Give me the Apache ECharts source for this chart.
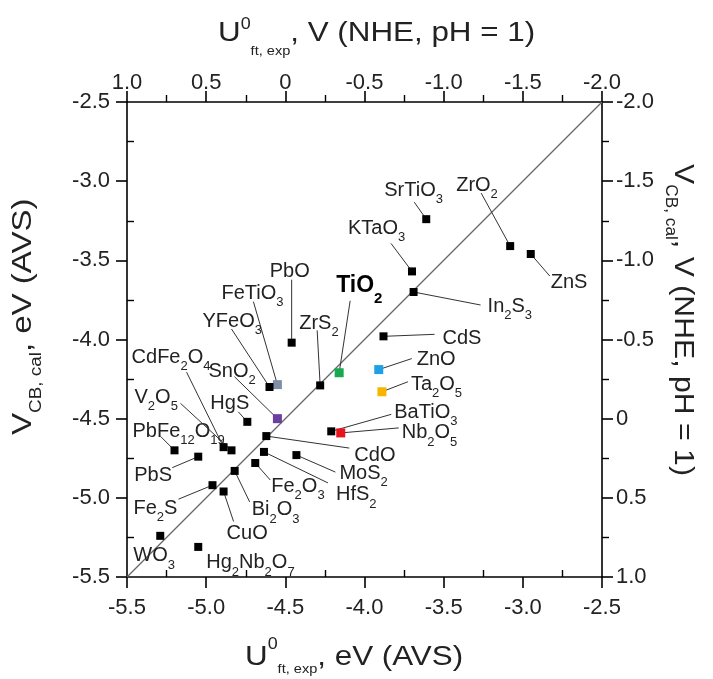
<!DOCTYPE html>
<html>
<head>
<meta charset="utf-8">
<script src="https://cdn.jsdelivr.net/npm/echarts@6/dist/echarts.min.js"></script>
<style>
  html, body { margin: 0; padding: 0; background: #fff; }
  #chart { width: 713px; height: 679px; }
</style>
</head>
<body>
<div id="chart"></div>
<script>
// materials, experimental flat-band potential vs calculated CB edge (both eV vs AVS)
const names = ['SrTiO3', 'ZrO2', 'ZnS', 'KTaO3', 'In2S3', 'CdS', 'ZnO', 'Ta2O5', 'TiO2', 'ZrS2',
  'PbO', 'BaTiO3', 'Nb2O5', 'MoS2', 'FeTiO3', 'YFeO3', 'SnO2', 'HgS', 'CdO', 'HfS2',
  'Fe2O3', 'Bi2O3', 'CuO', 'Fe2S', 'WO3', 'Hg2Nb2O7', 'PbS', 'PbFe12O19', 'CdFe2O4', 'V2O5'];
const uExp = [-3.61, -3.08, -2.95, -3.70, -3.69, -3.88, -3.91, -3.89, -4.16, -4.28,
  -4.46, -4.21, -4.15, -4.43, -4.55, -4.60, -4.55, -4.74, -4.62, -4.635,
  -4.69, -4.82, -4.89, -4.96, -5.29, -5.05, -5.05, -5.20, -4.89, -4.84];
const vCal = [-3.24, -3.41, -3.46, -3.57, -3.70, -3.98, -4.19, -4.33, -4.21, -4.29,
  -4.02, -4.58, -4.59, -4.73, -4.285, -4.30, -4.50, -4.52, -4.61, -4.71,
  -4.78, -4.83, -4.96, -4.92, -5.24, -5.31, -4.74, -4.70, -4.68, -4.70];
// y = x reference line
const diagX = [-5.5, -2.5];
const diagY = [-5.5, -2.5];

// highlighted materials
const pointColors = {
  TiO2: '#19a84f', ZnO: '#1ea0e6', Ta2O5: '#f7b500', Nb2O5: '#e8141b',
  SnO2: '#6b3fa0', FeTiO3: '#7f8fa8'
};

// label placement in px relative to the point: [text left, text middle, leader end x, leader end y]
const labelPos = {
  SrTiO3: [-42, -29, -12, -17], ZrO2: [-54, -61, -29, -53], ZnS: [20, 28, 19, 22],
  KTaO3: [-64, -43, -21, -28], In2S3: [74, 14, 67, 13], CdS: [59, 2, 51, -2],
  ZnO: [38, -10, 33, -11], Ta2O5: [29, -7, 26, -10], TiO2: [-3, -87, 11, -72],
  ZrS2: [-21, -62, -3, -55], PbO: [-22, -71, 0, -63], BaTiO3: [63, -19, 60, -17],
  Nb2O5: [61, 0, 58, -5], MoS2: [43, 18, 39, 17], FeTiO3: [-56, -91, -24, -83],
  YFeO3: [-67, -66, -38, -58], SnO2: [-69, -47, -43, -42], HgS: [-37, -18, -9, -10],
  CdO: [88, 19, 83, 12], HfS2: [72, 43, 64, 31], Fe2O3: [16, 23, 15, 17],
  Bi2O3: [17, 39, 15, 31], CuO: [3, 42, 10, 30], Fe2S: [-79, 23, -34, 14],
  WO3: [-27, 20, null, null], Hg2Nb2O7: [8, 16, null, null], PbS: [-64, 19, -26, 11],
  PbFe12O19: [-42, -19, -14, -14], CdFe2O4: [-92, -90, -37, -75], V2O5: [-97, -53, -51, -47]
};

const FONT = '"Liberation Sans", Arial, Helvetica, sans-serif';
const INK = '#222';

const labelRich = {
  m: { fontSize: 20, fontFamily: FONT, lineHeight: 20, verticalAlign: 'top', fill: INK, color: INK },
  s: { fontSize: 13, fontFamily: FONT, lineHeight: 13, padding: [12.6, 0, 0, 0], verticalAlign: 'top', fill: INK, color: INK },
  mb: { fontSize: 23, fontFamily: FONT, fontWeight: 'bold', lineHeight: 23, verticalAlign: 'top', fill: '#000', color: '#000' },
  sb: { fontSize: 15, fontFamily: FONT, fontWeight: 'bold', lineHeight: 15, padding: [16.8, 0, 0, 0], verticalAlign: 'top', fill: '#000', color: '#000' }
};

// digits in a formula become subscripts
function formula(name, bold) {
  const m = bold ? 'mb' : 'm';
  const s = bold ? 'sb' : 's';
  return name.replace(/(\d+)|(\D+)/g, function (all, d, t) {
    return d ? '{' + s + '|' + d + '}' : '{' + m + '|' + t + '}';
  });
}

function fmt(v) {
  return v === 0 ? '0' : v.toFixed(1);
}

const points = uExp.map(function (x, i) { return [x, vCal[i]]; });

const axisLine = { onZero: false, lineStyle: { color: '#000', width: 1.6 } };
const axisTick = { inside: false, length: 11, lineStyle: { color: '#000', width: 1.6 } };
function tickLabel(margin) {
  return {
    margin: margin, fontSize: 22, fontFamily: FONT, color: INK,
    formatter: fmt, showMinLabel: true, showMaxLabel: true
  };
}

// minor ticks come out pointing inward on the bottom/left axes, so flip those
function makeAxis(position, min, max, inverse, margin, minorLen) {
  return {
    type: 'value', position: position, min: min, max: max, interval: 0.5, inverse: inverse,
    axisLine: axisLine, axisTick: axisTick,
    minorTick: { show: true, splitNumber: 2, length: minorLen, lineStyle: { color: '#000', width: 1.4 } },
    splitLine: { show: false }, minorSplitLine: { show: false },
    axisLabel: tickLabel(margin)
  };
}

function titleRich(mainPad, subSize, subPad) {
  return {
    m: { fontSize: 28, fontFamily: FONT, lineHeight: 28, padding: [mainPad, 0, 0, 0], verticalAlign: 'top', fill: INK },
    sup: { fontSize: 16, fontFamily: FONT, lineHeight: 16, verticalAlign: 'top', fill: INK },
    sub: { fontSize: subSize, fontFamily: FONT, lineHeight: subSize, padding: [subPad, 0, 0, 0], verticalAlign: 'top', fill: INK }
  };
}

const chart = echarts.init(document.getElementById('chart'));

chart.setOption({
  animation: false,
  backgroundColor: '#fff',
  grid: { left: 127, right: 111, top: 102, bottom: 102 },
  xAxis: [
    makeAxis('bottom', -5.5, -2.5, false, 20, -7),
    makeAxis('top', -2, 1, true, 8, 7)
  ],
  yAxis: [
    makeAxis('left', -5.5, -2.5, false, 17, -7),
    makeAxis('right', -2, 1, true, 14, 7)
  ],
  graphic: [
    {
      type: 'text', x: 218, y: 16.4, scaleX: 1.12, silent: true,
      style: {
        text: '{m|U}{sup|0}{sub|ft, exp}{m|, V (NHE, pH = 1)}',
        rich: titleRich(3.1, 13, 29), align: 'left', verticalAlign: 'top'
      }
    },
    {
      type: 'text', x: 245, y: 636.4, scaleX: 1.12, silent: true,
      style: {
        text: '{m|U}{sup|0}{sub|ft, exp}{m|, eV (AVS)}',
        rich: titleRich(6.5, 13, 27), align: 'left', verticalAlign: 'top'
      }
    },
    {
      type: 'text', x: 9.5, y: 435, rotation: Math.PI / 2, scaleX: 1.18, silent: true,
      style: {
        text: '{m|V}{sub|CB, cal}{m|, eV (AVS)}',
        rich: titleRich(0, 16, 18.6), align: 'left', verticalAlign: 'top'
      }
    },
    {
      type: 'text', x: 696.8, y: 164, rotation: -Math.PI / 2, scaleX: 1.08, silent: true,
      style: {
        text: '{m|V}{sub|CB, cal}{m|, V (NHE, pH = 1)}',
        rich: titleRich(0, 16, 18.2), align: 'left', verticalAlign: 'top'
      }
    }
  ],
  series: [
    {
      type: 'line',
      xAxisIndex: 0, yAxisIndex: 0,
      data: diagX.map(function (x, i) { return [x, diagY[i]]; }),
      symbol: 'none', silent: true, z: 1,
      lineStyle: { color: '#666', width: 1.2 }
    },
    {
      type: 'custom',
      xAxisIndex: 0, yAxisIndex: 0,
      data: points, silent: true, z: 2,
      renderItem: function (params, api) {
        const p = api.coord([api.value(0), api.value(1)]);
        const name = names[params.dataIndex];
        const lay = labelPos[name];
        const bold = name === 'TiO2';
        const children = [];
        if (lay[2] !== null) {
          children.push({
            type: 'line',
            shape: { x1: p[0], y1: p[1], x2: p[0] + lay[2], y2: p[1] + lay[3] },
            style: { stroke: '#333', lineWidth: 1 }
          });
        }
        children.push({
          type: 'text',
          x: p[0] + lay[0],
          y: p[1] + lay[1] - (bold ? 11.5 : 10),
          style: {
            text: formula(name, bold), rich: labelRich,
            align: 'left', verticalAlign: 'top', fill: INK
          }
        });
        return { type: 'group', children: children };
      }
    },
    {
      type: 'scatter',
      xAxisIndex: 0, yAxisIndex: 0, z: 3,
      symbol: 'rect',
      data: points.map(function (v, i) {
        const c = pointColors[names[i]];
        return {
          value: v,
          symbolSize: c ? 9 : 8,
          itemStyle: { color: c || '#000', opacity: 1 }
        };
      })
    }
  ]
});
</script>
</body>
</html>
